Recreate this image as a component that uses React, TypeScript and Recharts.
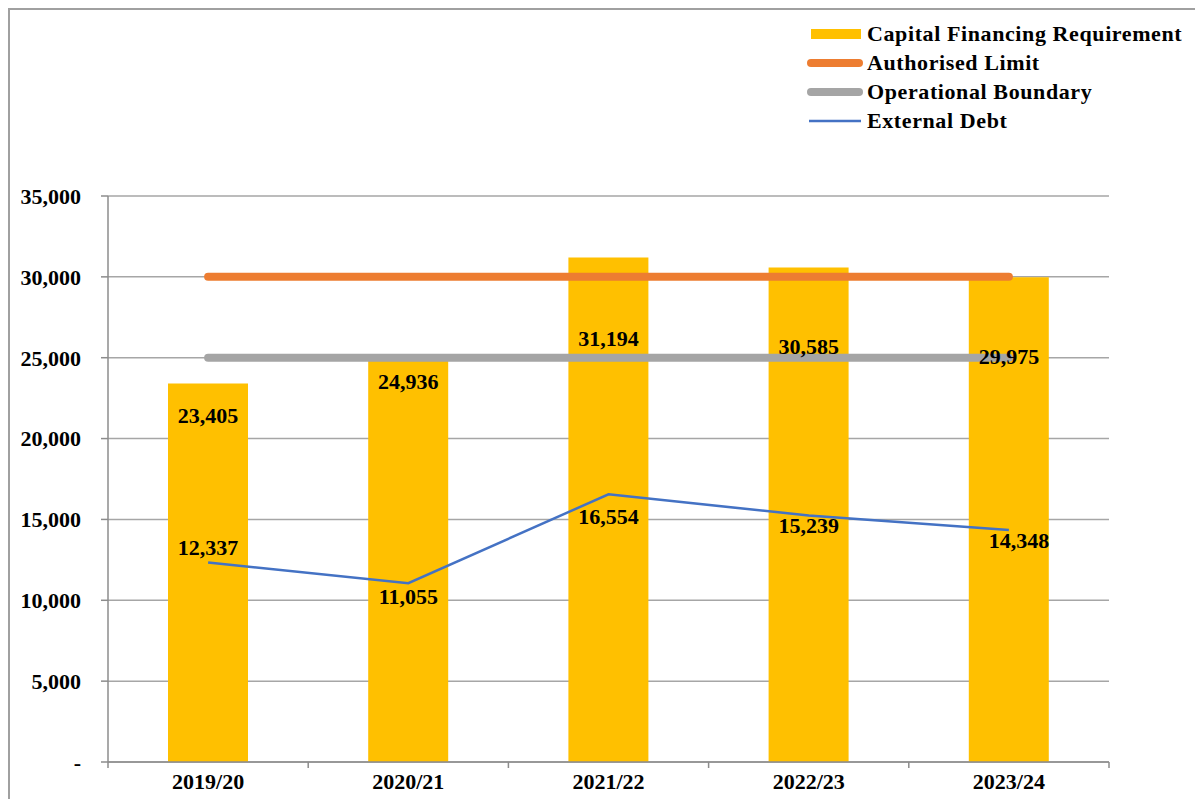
import {
  ComposedChart,
  Bar,
  Line,
  XAxis,
  YAxis,
  CartesianGrid,
  Legend,
  LabelList
} from 'recharts'

const years = ['2019/20', '2020/21', '2021/22', '2022/23', '2023/24']
const capitalFinancing = [23405, 24936, 31194, 30585, 29975]
const authorisedLimit = [30000, 30000, 30000, 30000, 30000]
const operationalBoundary = [25000, 25000, 25000, 25000, 25000]
const externalDebt = [12337, 11055, 16554, 15239, 14348]
const yTicks = [0, 5000, 10000, 15000, 20000, 25000, 30000, 35000]

// label nudges, as placed by hand in the original
const barLabelDy = [34, 25, 83, 82, 82]
const debtLabelDx = [0, 0, 0, 0, 10]
const debtLabelDy = [-13, 16, 25, 12, 13]

const COLORS = {
  bar: '#FFC000',
  limit: '#ED7D31',
  boundary: '#A5A5A5',
  debt: '#4472C4',
  grid: '#A6A6A6',
  axis: '#8C8C8C'
}

const FONT = '"Liberation Serif", "Times New Roman", serif'

const data = years.map((year, i) => ({
  year,
  cfr: capitalFinancing[i],
  limit: authorisedLimit[i],
  boundary: operationalBoundary[i],
  debt: externalDebt[i]
}))

const fmt = (v: number): string => (v === 0 ? '-' : v.toLocaleString('en-US'))

const textStyle = { fontFamily: FONT, fontWeight: 700, fontSize: 22, fill: '#000' }

function BarValueLabel(props: any): JSX.Element {
  const { x, y, value, index } = props
  return (
    <text
      x={x}
      y={y + barLabelDy[index]}
      textAnchor="middle"
      dominantBaseline="middle"
      style={textStyle}
    >
      {fmt(value)}
    </text>
  )
}

function DebtLabel(props: any): JSX.Element {
  const { x, y, value, index } = props
  return (
    <text
      x={x + debtLabelDx[index]}
      y={y + debtLabelDy[index]}
      textAnchor="middle"
      dominantBaseline="middle"
      style={textStyle}
    >
      {fmt(value)}
    </text>
  )
}

// year label plus Excel-style tick marks on the category boundaries
function YearTick(props: any): JSX.Element {
  const { x, y, payload, index } = props
  const half = payload && payload.offset ? payload.offset : 100
  const top = y - 11
  return (
    <g>
      <line x1={x - half} y1={top} x2={x - half} y2={top + 6} stroke={COLORS.axis} strokeWidth={1.5} />
      {index === years.length - 1 && (
        <line x1={x + half} y1={top} x2={x + half} y2={top + 6} stroke={COLORS.axis} strokeWidth={1.5} />
      )}
      <text x={x} y={y} dy="0.71em" textAnchor="middle" style={textStyle}>
        {payload.value}
      </text>
    </g>
  )
}

const legendItems = [
  { name: 'Capital Financing Requirement', kind: 'bar', color: COLORS.bar },
  { name: 'Authorised Limit', kind: 'thick', color: COLORS.limit },
  { name: 'Operational Boundary', kind: 'thick', color: COLORS.boundary },
  { name: 'External Debt', kind: 'thin', color: COLORS.debt }
]

function ChartLegend(): JSX.Element {
  return (
    <div
      style={{
        fontFamily: FONT,
        fontWeight: 700,
        fontSize: 22,
        letterSpacing: 0.6,
        color: '#000'
      }}
    >
      {legendItems.map((item) => (
        <div
          key={item.name}
          style={{ display: 'flex', alignItems: 'center', height: 29, whiteSpace: 'nowrap' }}
        >
          <svg width={56} height={12} style={{ marginRight: 4 }}>
            {item.kind === 'bar' && <rect x={4} y={1} width={50} height={10} fill={item.color} />}
            {item.kind === 'thick' && (
              <line x1={4} y1={6} x2={52} y2={6} stroke={item.color} strokeWidth={8} strokeLinecap="round" />
            )}
            {item.kind === 'thin' && (
              <line x1={2} y1={6} x2={54} y2={6} stroke={item.color} strokeWidth={2.5} />
            )}
          </svg>
          <span>{item.name}</span>
        </div>
      ))}
    </div>
  )
}

function App(): JSX.Element {
  return (
    <div
      style={{
        width: 1195,
        height: 791,
        borderLeft: '2px solid #A0A0A0',
        borderTop: '2px solid #A0A0A0',
        boxSizing: 'border-box',
        background: '#fff',
        position: 'relative'
      }}
    >
      <ComposedChart
        width={1193}
        height={789}
        data={data}
        margin={{ top: 186, right: 94, left: 0, bottom: 0 }}
      >
        <CartesianGrid vertical={false} stroke={COLORS.grid} strokeWidth={1.5} />
        <XAxis
          dataKey="year"
          tickLine={false}
          tickSize={0}
          tickMargin={11}
          axisLine={{ stroke: COLORS.axis, strokeWidth: 1.5 }}
          tick={YearTick}
          height={37}
        />
        <YAxis
          domain={[0, 35000]}
          ticks={yTicks}
          tickFormatter={fmt}
          tick={textStyle}
          tickSize={7}
          tickMargin={20}
          tickLine={{ stroke: COLORS.axis, strokeWidth: 1.5 }}
          axisLine={{ stroke: COLORS.axis, strokeWidth: 1.5 }}
          width={98}
        />
        <Legend
          layout="vertical"
          align="center"
          verticalAlign="middle"
          content={() => <ChartLegend />}
          wrapperStyle={{ top: 9, left: 797, width: 400, height: 120 }}
        />
        <Bar dataKey="cfr" name="Capital Financing Requirement" fill={COLORS.bar} barSize={80} isAnimationActive={false} />
        <Line
          dataKey="limit"
          name="Authorised Limit"
          stroke={COLORS.limit}
          strokeWidth={8}
          strokeLinecap="round"
          dot={false}
          activeDot={false}
          isAnimationActive={false}
        />
        <Line
          dataKey="boundary"
          name="Operational Boundary"
          stroke={COLORS.boundary}
          strokeWidth={8}
          strokeLinecap="round"
          dot={false}
          activeDot={false}
          isAnimationActive={false}
        />
        <Line
          dataKey="debt"
          name="External Debt"
          stroke={COLORS.debt}
          strokeWidth={2.5}
          dot={false}
          activeDot={false}
          isAnimationActive={false}
        >
          <LabelList dataKey="debt" content={DebtLabel} />
        </Line>
        {/* invisible carrier so the bar values sit above the boundary lines */}
        <Line
          dataKey="cfr"
          stroke="none"
          dot={false}
          activeDot={false}
          legendType="none"
          isAnimationActive={false}
        >
          <LabelList dataKey="cfr" content={BarValueLabel} />
        </Line>
      </ComposedChart>
    </div>
  )
}

export default App
